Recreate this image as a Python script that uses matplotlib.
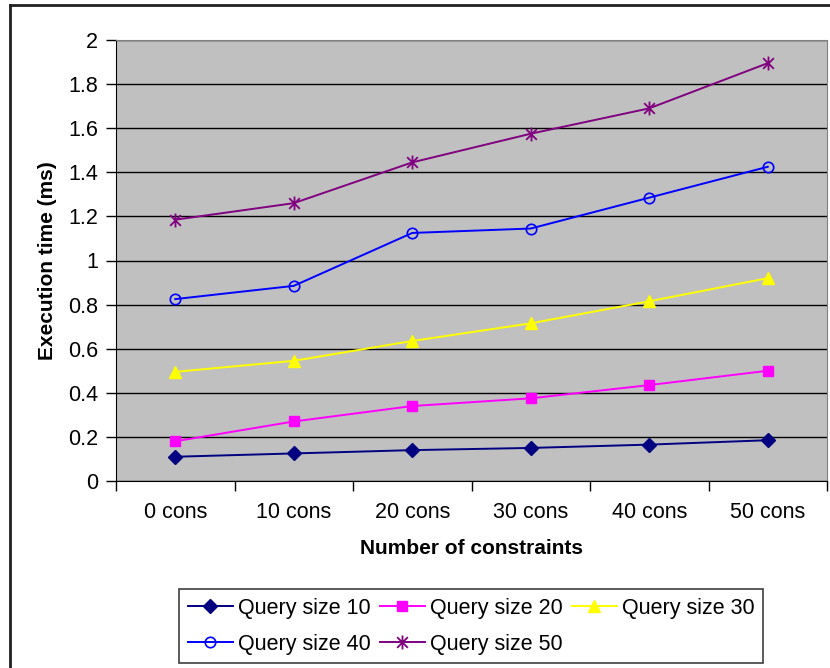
import matplotlib.pyplot as plt
from matplotlib.path import Path
from matplotlib.lines import Line2D

categories = ["0 cons", "10 cons", "20 cons", "30 cons", "40 cons", "50 cons"]
query10 = [0.11, 0.125, 0.14, 0.15, 0.165, 0.185]
query20 = [0.18, 0.27, 0.34, 0.375, 0.435, 0.50]
query30 = [0.495, 0.545, 0.635, 0.715, 0.815, 0.92]
query40 = [0.825, 0.885, 1.125, 1.145, 1.285, 1.425]
query50 = [1.185, 1.26, 1.445, 1.575, 1.69, 1.895]
y_ticks = [0, 0.2, 0.4, 0.6, 0.8, 1, 1.2, 1.4, 1.6, 1.8, 2]

# asterisk marker like the spreadsheet one: an x with a vertical bar
star = Path([(-1, -1), (1, 1), (-1, 1), (1, -1), (0, -1.3), (0, 1.3)],
            [Path.MOVETO, Path.LINETO, Path.MOVETO, Path.LINETO,
             Path.MOVETO, Path.LINETO])

plt.rcParams["font.family"] = ["Liberation Sans", "DejaVu Sans"]
fs = 15.5

fig = plt.figure(figsize=(8.3, 6.68), dpi=100)
ax = fig.add_axes([116 / 830, 1 - 481 / 668, (827 - 116) / 830, (481 - 40) / 668])
ax.set_facecolor("#C0C0C0")

x = [i + 0.5 for i in range(len(categories))]
series = [
    ("Query size 10", query10, "#000080", dict(marker="D", ms=7, mfc="#000080")),
    ("Query size 20", query20, "#FF00FF", dict(marker="s", ms=7.5, mfc="#FF00FF")),
    ("Query size 30", query30, "#FFFF00", dict(marker="^", ms=8.5, mfc="#FFFF00")),
    ("Query size 40", query40, "#0000FF", dict(marker="o", ms=7.5, mfc="none", mew=1.2)),
    ("Query size 50", query50, "#800080", dict(marker=star, ms=10, mfc="none", mew=1.3)),
]
handles = []
for label, vals, color, mk in series:
    h, = ax.plot(x, vals, color=color, lw=1.4, mec=color, label=label, **mk)
    handles.append(h)

ax.set_xlim(0, len(categories))
ax.set_ylim(0, 2)
ax.set_yticks(y_ticks)
ax.set_yticklabels([f"{v:g}" for v in y_ticks])
ax.yaxis.grid(True, color="black", lw=1.0)
ax.set_axisbelow(True)

ax.set_xticks(range(len(categories) + 1))
ax.set_xticklabels([])
ax.set_xticks(x, minor=True)
ax.set_xticklabels(categories, minor=True)
ax.tick_params(axis="x", which="major", length=7, width=1)
ax.tick_params(axis="x", which="minor", length=0, pad=15, labelsize=fs)
ax.tick_params(axis="y", length=7, width=1, pad=6, labelsize=fs)

for side in ["top", "right"]:
    ax.spines[side].set_color("#808080")
ax.spines["left"].set_color("black")
ax.spines["bottom"].set_color("black")

ax.set_xlabel("Number of constraints", fontsize=15, fontweight="bold", labelpad=12)
ax.set_ylabel("Execution time (ms)", fontsize=15, fontweight="bold", labelpad=8)

# row-wise legend order with 3 columns
order = [0, 3, 1, 4, 2]
leg = fig.legend([handles[i] for i in order], [handles[i].get_label() for i in order],
                 ncol=3, loc="upper left", bbox_to_anchor=(179 / 830, 1 - 589 / 668),
                 fontsize=fs, fancybox=False, edgecolor="#404040", framealpha=1,
                 handlelength=2.1, handletextpad=0.25, columnspacing=0.4,
                 labelspacing=0.7, borderpad=0.4, borderaxespad=0)
leg.get_frame().set_linewidth(1.2)

# outer chart border (left and top visible)
fig.add_artist(Line2D([10 / 830, 10 / 830], [0, 1 - 5 / 668], color="#202020", lw=2,
                      transform=fig.transFigure))
fig.add_artist(Line2D([10 / 830, 1], [1 - 5 / 668, 1 - 5 / 668], color="#202020", lw=2,
                      transform=fig.transFigure))

fig.savefig("out.png", dpi=100)
